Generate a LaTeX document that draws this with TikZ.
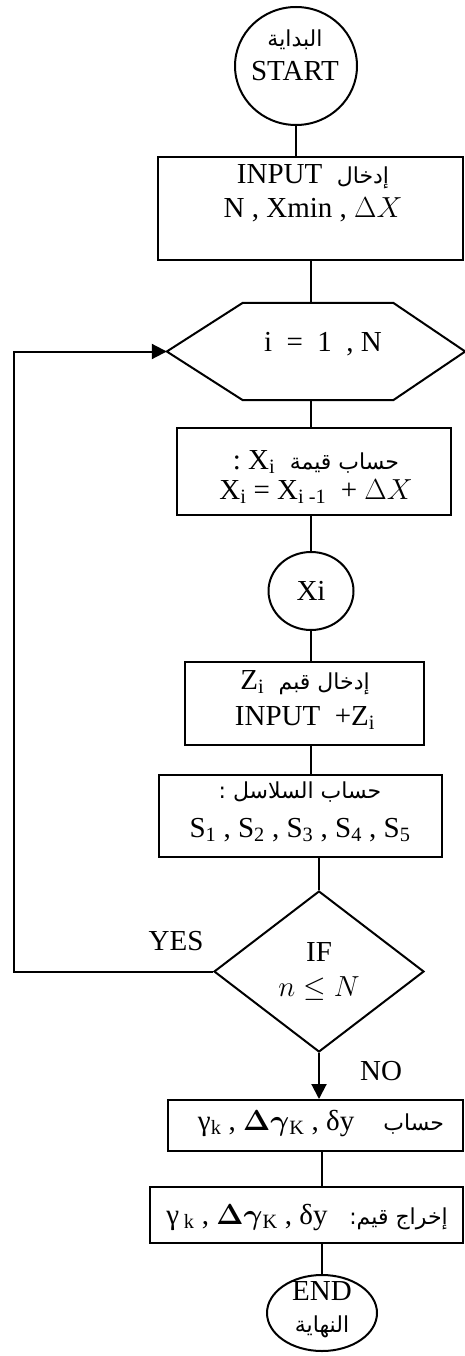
\RequirePackage{fix-cm}
\documentclass[tikz,border=0pt]{standalone}
\usepackage{fontspec}
\usepackage{bm}
\setmainfont{Liberation Serif}
\newfontfamily\arabicfont[Script=Arabic]{DejaVu Sans}
\TeXXeTstate=1
\usetikzlibrary{shapes.geometric,arrows.meta}
% Arabic words, right to left, slightly smaller than the Latin text
\newcommand\AR[1]{{\arabicfont\fontsize{22}{25}\selectfont\beginR #1\endR}}

\begin{document}
\begin{tikzpicture}[x=1pt,y=-1pt,
  flow/.style={line width=2pt},
  box/.style={draw, line width=2pt, rectangle, inner sep=0pt},
  oval/.style={draw, line width=2pt, ellipse, inner sep=0pt},
  txt/.style={font=\fontsize{29}{34}\selectfont, align=center, inner sep=0pt},
  tip/.style={-{Triangle[length=15pt,width=15pt]}}]
\useasboundingbox (0,0) rectangle (465,1356);

% start
\node[oval, minimum width=122pt, minimum height=118pt] (start) at (296,66) {};
\node[txt] (startt) at (295,55) {\AR{البداية}\\START};

% input N, Xmin, dX
\node[box, minimum width=305pt, minimum height=103pt] (in1) at (310.5,208.5) {};
\node[txt] (in1t) at (313,193) {INPUT\ \ \AR{إدخال}\\N ,\ Xmin ,\ $\Delta X$};

% loop header (hexagon)
\node[minimum width=298pt, minimum height=97pt, inner sep=0pt] (hex) at (316,351.5) {};
\draw[flow] (hex.west) -- ([xshift=76pt]hex.north west) -- ([xshift=-72pt]hex.north east)
  -- (hex.east) -- ([xshift=-72pt]hex.south east) -- ([xshift=76pt]hex.south west) -- cycle;
\node[txt] (hext) at (323,344) {i\ \ =\ \ 1\ \ , N};

% compute X_i
\node[box, minimum width=274pt, minimum height=87pt] (box2) at (314,471.5) {};
\node[txt, font=\fontsize{29}{30}\selectfont] (box2t) at (316,477)
  {:\ X\textsubscript{i}\ \ \AR{حساب قيمة}\\X\textsubscript{i} = X\textsubscript{i -1}\ \ + $\Delta X$};

% X_i
\node[oval, minimum width=85pt, minimum height=78pt, font=\fontsize{29}{30}\selectfont] (xi) at (311,591) {Xi};

% input Z_i
\node[box, minimum width=239pt, minimum height=83pt] (box3) at (304.5,703.5) {};
\node[txt, font=\fontsize{29}{36}\selectfont] (box3t) at (305,700)
  {Z\textsubscript{i}\ \ \AR{إدخال قبم}\\INPUT\ \ +Z\textsubscript{i}};

% series S1..S5
\node[box, minimum width=283pt, minimum height=82pt] (box4) at (300.5,816) {};
\node[txt, font=\fontsize{29}{39}\selectfont] (box4t) at (300,812)
  {\AR{حساب السلاسل :}\\S\textsubscript{1} , S\textsubscript{2} , S\textsubscript{3} , S\textsubscript{4} , S\textsubscript{5}};

% test
\node[draw, line width=2pt, diamond, inner sep=0pt, minimum width=210pt, minimum height=161pt] (dia) at (319,971.5) {};
\node[txt, font=\fontsize{29}{35}\selectfont] (diat) at (319,971) {IF\\$n \leq N$};
\node[txt] (yes) at (176,941) {YES};
\node[txt] (no) at (381,1071) {NO};

% compute gamma
\node[box, minimum width=295pt, minimum height=51pt] (box5) at (315.5,1125.5) {};
\node[txt] (box5t) at (321,1123)
  {γ\textsubscript{k} , $\bm{\Delta\gamma}$\textsubscript{K} , δy\ \ \ \ \AR{حساب}};

% output gamma
\node[box, minimum width=313pt, minimum height=56pt] (box6) at (306.5,1215) {};
\node[txt] (box6t) at (307,1217)
  {γ\,\textsubscript{k} , $\bm{\Delta\gamma}$\textsubscript{K} , δy\ \ \ \AR{إخراج قيم:}};

% end
\node[oval, minimum width=110pt, minimum height=76pt] (fin) at (322,1313) {};
\node[txt, font=\fontsize{29}{32}\selectfont] (fint) at (322,1310) {END\\\AR{النهاية}};

% connectors
\draw[flow] (start.south) -- (start.south |- in1.north);
\draw[flow] (in1.south -| xi.north) -- (hex.north -| xi.north);
\draw[flow] (hex.south -| xi.north) -- (box2.north -| xi.north);
\draw[flow] (box2.south -| xi.north) -- (xi.north);
\draw[flow] (xi.south) -- (box3.north -| xi.south);
\draw[flow] (box3.south -| xi.south) -- (box4.north -| xi.south);
\draw[flow] (box4.south -| dia.north) -- (dia.north);
\draw[flow, tip] (dia.south) -- (box5.north -| dia.south);
\draw[flow] (box5.south -| fin.north) -- (box6.north -| fin.north);
\draw[flow] (box6.south -| fin.north) -- (fin.north);

% loop back on YES
\coordinate (lp) at (14,0);
\draw[flow, tip] (dia.west) -- (dia.west -| lp) -- (hex.west -| lp) -- (hex.west);
\end{tikzpicture}
\end{document}
